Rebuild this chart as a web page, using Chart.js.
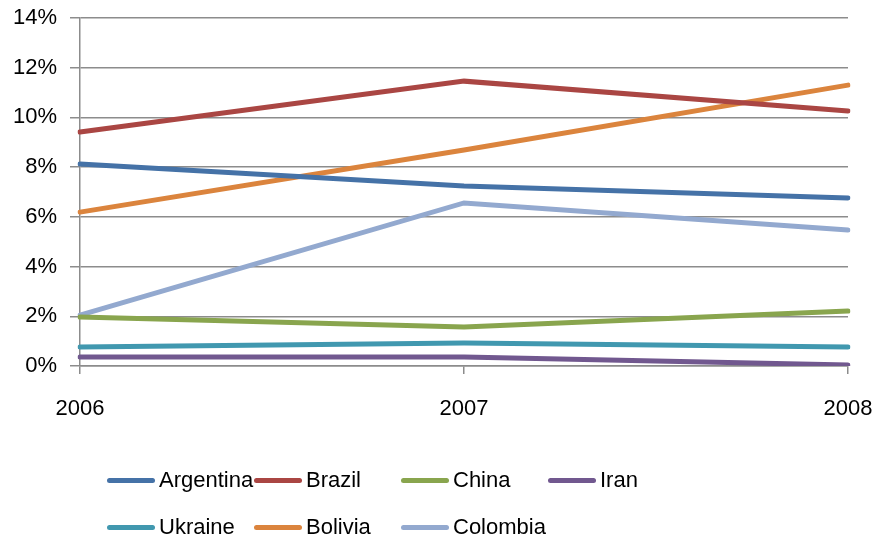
<!DOCTYPE html>
<html>
<head>
<meta charset="utf-8">
<script src="https://cdn.jsdelivr.net/npm/chart.js@4.4.0/dist/chart.umd.min.js"></script>
<style>
  html, body { margin: 0; padding: 0; background: #fff; }
  #wrap { position: relative; width: 877px; height: 540px; }
  #legend { position: absolute; left: 107px; top: 462px; width: 760px;
            display: grid; grid-template-columns: 147px 147px 147px 147px; row-gap: 11px;
            font-family: "Liberation Sans", Arial, sans-serif; font-size: 22px; color: #000; }
  .item { display: flex; align-items: center; height: 36px; white-space: nowrap; }
  .swatch { width: 48px; height: 5px; border-radius: 3px; margin-right: 4px; flex: none; }
</style>
</head>
<body>
<div id="wrap">
  <canvas id="lineChart" width="877" height="540"></canvas>
  <div id="legend"></div>
</div>
<script>
// ================= DATA =================
const years = ["2006", "2007", "2008"];
const yTicks = [0, 2, 4, 6, 8, 10, 12, 14];

const argentina = [8.13, 7.24, 6.76];
const brazil    = [9.41, 11.46, 10.26];
const china     = [1.97, 1.57, 2.21];
const iran      = [0.36, 0.36, 0.04];
const ukraine   = [0.76, 0.93, 0.76];
const bolivia   = [6.19, 8.69, 11.30];
const colombia  = [2.05, 6.56, 5.47];

const seriesNames  = ["Argentina", "Brazil", "China", "Iran", "Ukraine", "Bolivia", "Colombia"];
const seriesValues = [argentina, brazil, china, iran, ukraine, bolivia, colombia];
const seriesColors = ["#4572A7", "#AA4643", "#89A54E", "#71588F", "#4198AF", "#DB843D", "#93A9CF"];

// ================= CHART =================
const FONT = "'Liberation Sans', Arial, sans-serif";
const gridGray = "#8c8c8c";

const datasets = seriesNames.map((name, i) => ({
    label: name,
    data: seriesValues[i],
    borderColor: seriesColors[i],
    backgroundColor: seriesColors[i],
    borderWidth: 5,
    pointRadius: 0,
    tension: 0,
    borderCapStyle: "round"
}));

const chart = new Chart(document.getElementById("lineChart"), {
    type: "line",
    data: { labels: years, datasets },
    options: {
        responsive: false,
        animation: false,
        layout: { padding: { left: 0, right: 29, top: 18, bottom: 0 } },
        plugins: { legend: { display: false }, tooltip: { enabled: false } },
        scales: {
            x: {
                offset: false,
                grid: { drawOnChartArea: false, drawTicks: true, tickLength: 8, color: gridGray, lineWidth: 1.5 },
                border: { color: gridGray, width: 1.5 },
                ticks: { color: "#000", font: { family: FONT, size: 22 }, padding: 22, maxRotation: 0 },
                afterFit: s => { s.height = 174; s.paddingLeft = 0; s.paddingRight = 0; }
            },
            y: {
                min: 0, max: 14,
                afterBuildTicks: s => { s.ticks = yTicks.map(v => ({ value: v })); },
                grid: { color: gridGray, lineWidth: 1.5, tickLength: 10, drawTicks: true },
                border: { color: gridGray, width: 1.5 },
                ticks: { color: "#000", font: { family: FONT, size: 22 }, padding: 13,
                         callback: v => v + "%" },
                afterFit: s => { s.width = 80; s.paddingTop = 0; s.paddingBottom = 0; }
            }
        }
    }
});

// ================= LEGEND =================
const legend = document.getElementById("legend");
chart.data.datasets.forEach(ds => {
    legend.innerHTML += `<div class="item"><span class="swatch" style="background:${ds.borderColor}"></span>${ds.label}</div>`;
});
</script>
</body>
</html>
